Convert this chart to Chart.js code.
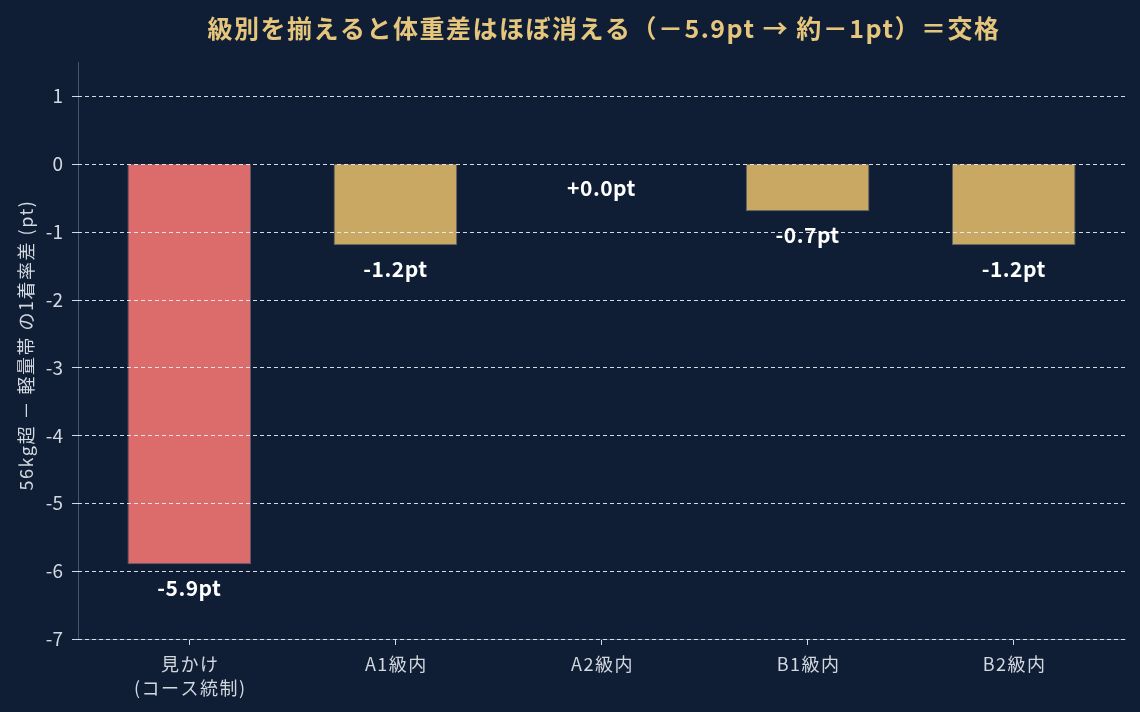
<!DOCTYPE html>
<html><head><meta charset="utf-8">
<script src="https://cdn.jsdelivr.net/npm/chart.js@4.4.1/dist/chart.umd.min.js"></script>
<style>html,body{margin:0;padding:0;background:#0f1e35;}#wrap{width:1140px;height:712px;}</style>
</head><body><div id="wrap"><canvas id="c" width="1140" height="712"></canvas></div>
<script>
const categories = [["見かけ","(コース統制)"], "A1級内", "A2級内", "B1級内", "B2級内"];
const values = [-5.9, -1.2, 0.0, -0.7, -1.2];
const yTicks = [1, 0, -1, -2, -3, -4, -5, -6, -7];
const titleText = "級別を揃えると体重差はほぼ消える（－5.9pt → 約－1pt）＝交格";
const yTitle = "56kg超 － 軽量帯 の1着率差 (pt)";

const FONT = "'Noto Sans CJK JP', 'Noto Sans', sans-serif";
const barColors = ["#dc6b6c", "#c8a862", "#c8a862", "#c8a862", "#c8a862"];

const overlay = {
  id: 'overlay',
  afterDatasetsDraw(chart) {
    const ctx = chart.ctx, ca = chart.chartArea, y = chart.scales.y, x = chart.scales.x;
    ctx.save();
    ctx.lineWidth = 1;
    yTicks.forEach(v => {
      const py = Math.round(y.getPixelForValue(v)) + 0.5;
      ctx.strokeStyle = '#d3d8e0';
      ctx.setLineDash([]);
      ctx.beginPath(); ctx.moveTo(ca.left - 6, py); ctx.lineTo(ca.left, py); ctx.stroke();
      ctx.strokeStyle = 'rgba(235,240,248,0.9)';
      ctx.setLineDash([4, 3]);
      ctx.beginPath(); ctx.moveTo(ca.left, py); ctx.lineTo(ca.right, py); ctx.stroke();
    });
    ctx.setLineDash([]);
    // y tick labels
    ctx.fillStyle = '#d3d8e0';
    ctx.font = "19px " + FONT;
    ctx.textAlign = 'right'; ctx.textBaseline = 'middle';
    yTicks.forEach(v => ctx.fillText(String(v), ca.left - 15, y.getPixelForValue(v)));
    // x tick labels
    ctx.textAlign = 'center'; ctx.textBaseline = 'middle';
    ctx.font = "18px " + FONT;
    ctx.letterSpacing = '1.5px';
    categories.forEach((c, i) => {
      const lines = Array.isArray(c) ? c : [c];
      lines.forEach((t, j) => ctx.fillText(t, x.getPixelForValue(i) + 1, 664 + j * 24));
    });
    // value labels
    const meta = chart.getDatasetMeta(0);
    ctx.fillStyle = '#ffffff';
    ctx.font = "bold 21px " + FONT;
    ctx.letterSpacing = '0.5px';
    meta.data.forEach((bar, i) => {
      const v = values[i];
      const txt = (v >= 0 ? '+' : '') + v.toFixed(1) + 'pt';
      ctx.fillText(txt, bar.x, y.getPixelForValue(v) + 24);
    });
    ctx.fillStyle = '#e6c67c';
    ctx.font = "bold 25px " + FONT;
    ctx.letterSpacing = '1.5px';
    ctx.fillText(titleText, 604, 28);
    // y title
    ctx.translate(26, 345);
    ctx.rotate(-Math.PI / 2);
    ctx.fillStyle = '#d3d8e0';
    ctx.font = "18px " + FONT;
    ctx.letterSpacing = '1.5px';
    ctx.fillText(yTitle, 0, 0);
    ctx.restore();
  }
};

new Chart(document.getElementById('c'), {
  type: 'bar',
  data: {
    datasets: [{
      data: values.map((v, i) => ({x: i, y: v})),
      backgroundColor: barColors,
      borderColor: 'rgba(160,160,170,0.5)',
      borderWidth: 1,
      barPercentage: 0.6,
      categoryPercentage: 1.0
    }]
  },
  options: {
    responsive: false,
    animation: false,
    devicePixelRatio: 1,
    layout: { padding: { top: 62, right: 15, left: 0, bottom: 0 } },
    plugins: { legend: { display: false }, tooltip: { enabled: false }, title: { display: false } },
    scales: {
      x: {
        type: 'linear', min: -0.54, max: 4.54, offset: false,
        afterBuildTicks(s) { s.ticks = [0,1,2,3,4].map(v => ({value: v})); },
        afterFit(s) { s.height = 73; },
        ticks: { font: { family: FONT, size: 17 }, maxRotation: 0, autoSkip: false, callback: () => '' },
        grid: { offset: false, drawOnChartArea: false, drawTicks: true, tickLength: 6, tickColor: '#d3d8e0', color: 'transparent' },
        border: { display: true, color: '#44546b', width: 1 }
      },
      y: {
        min: -7, max: 1.5,
        afterBuildTicks(s) { s.ticks = yTicks.map(v => ({value: v})); },
        afterFit(s) { s.width = 78; },
        ticks: { display: false },
        grid: { drawOnChartArea: false, drawTicks: false, color: 'transparent' },
        border: { display: true, color: '#44546b', width: 1 }
      }
    }
  },
  plugins: [overlay]
});
</script></body></html>
